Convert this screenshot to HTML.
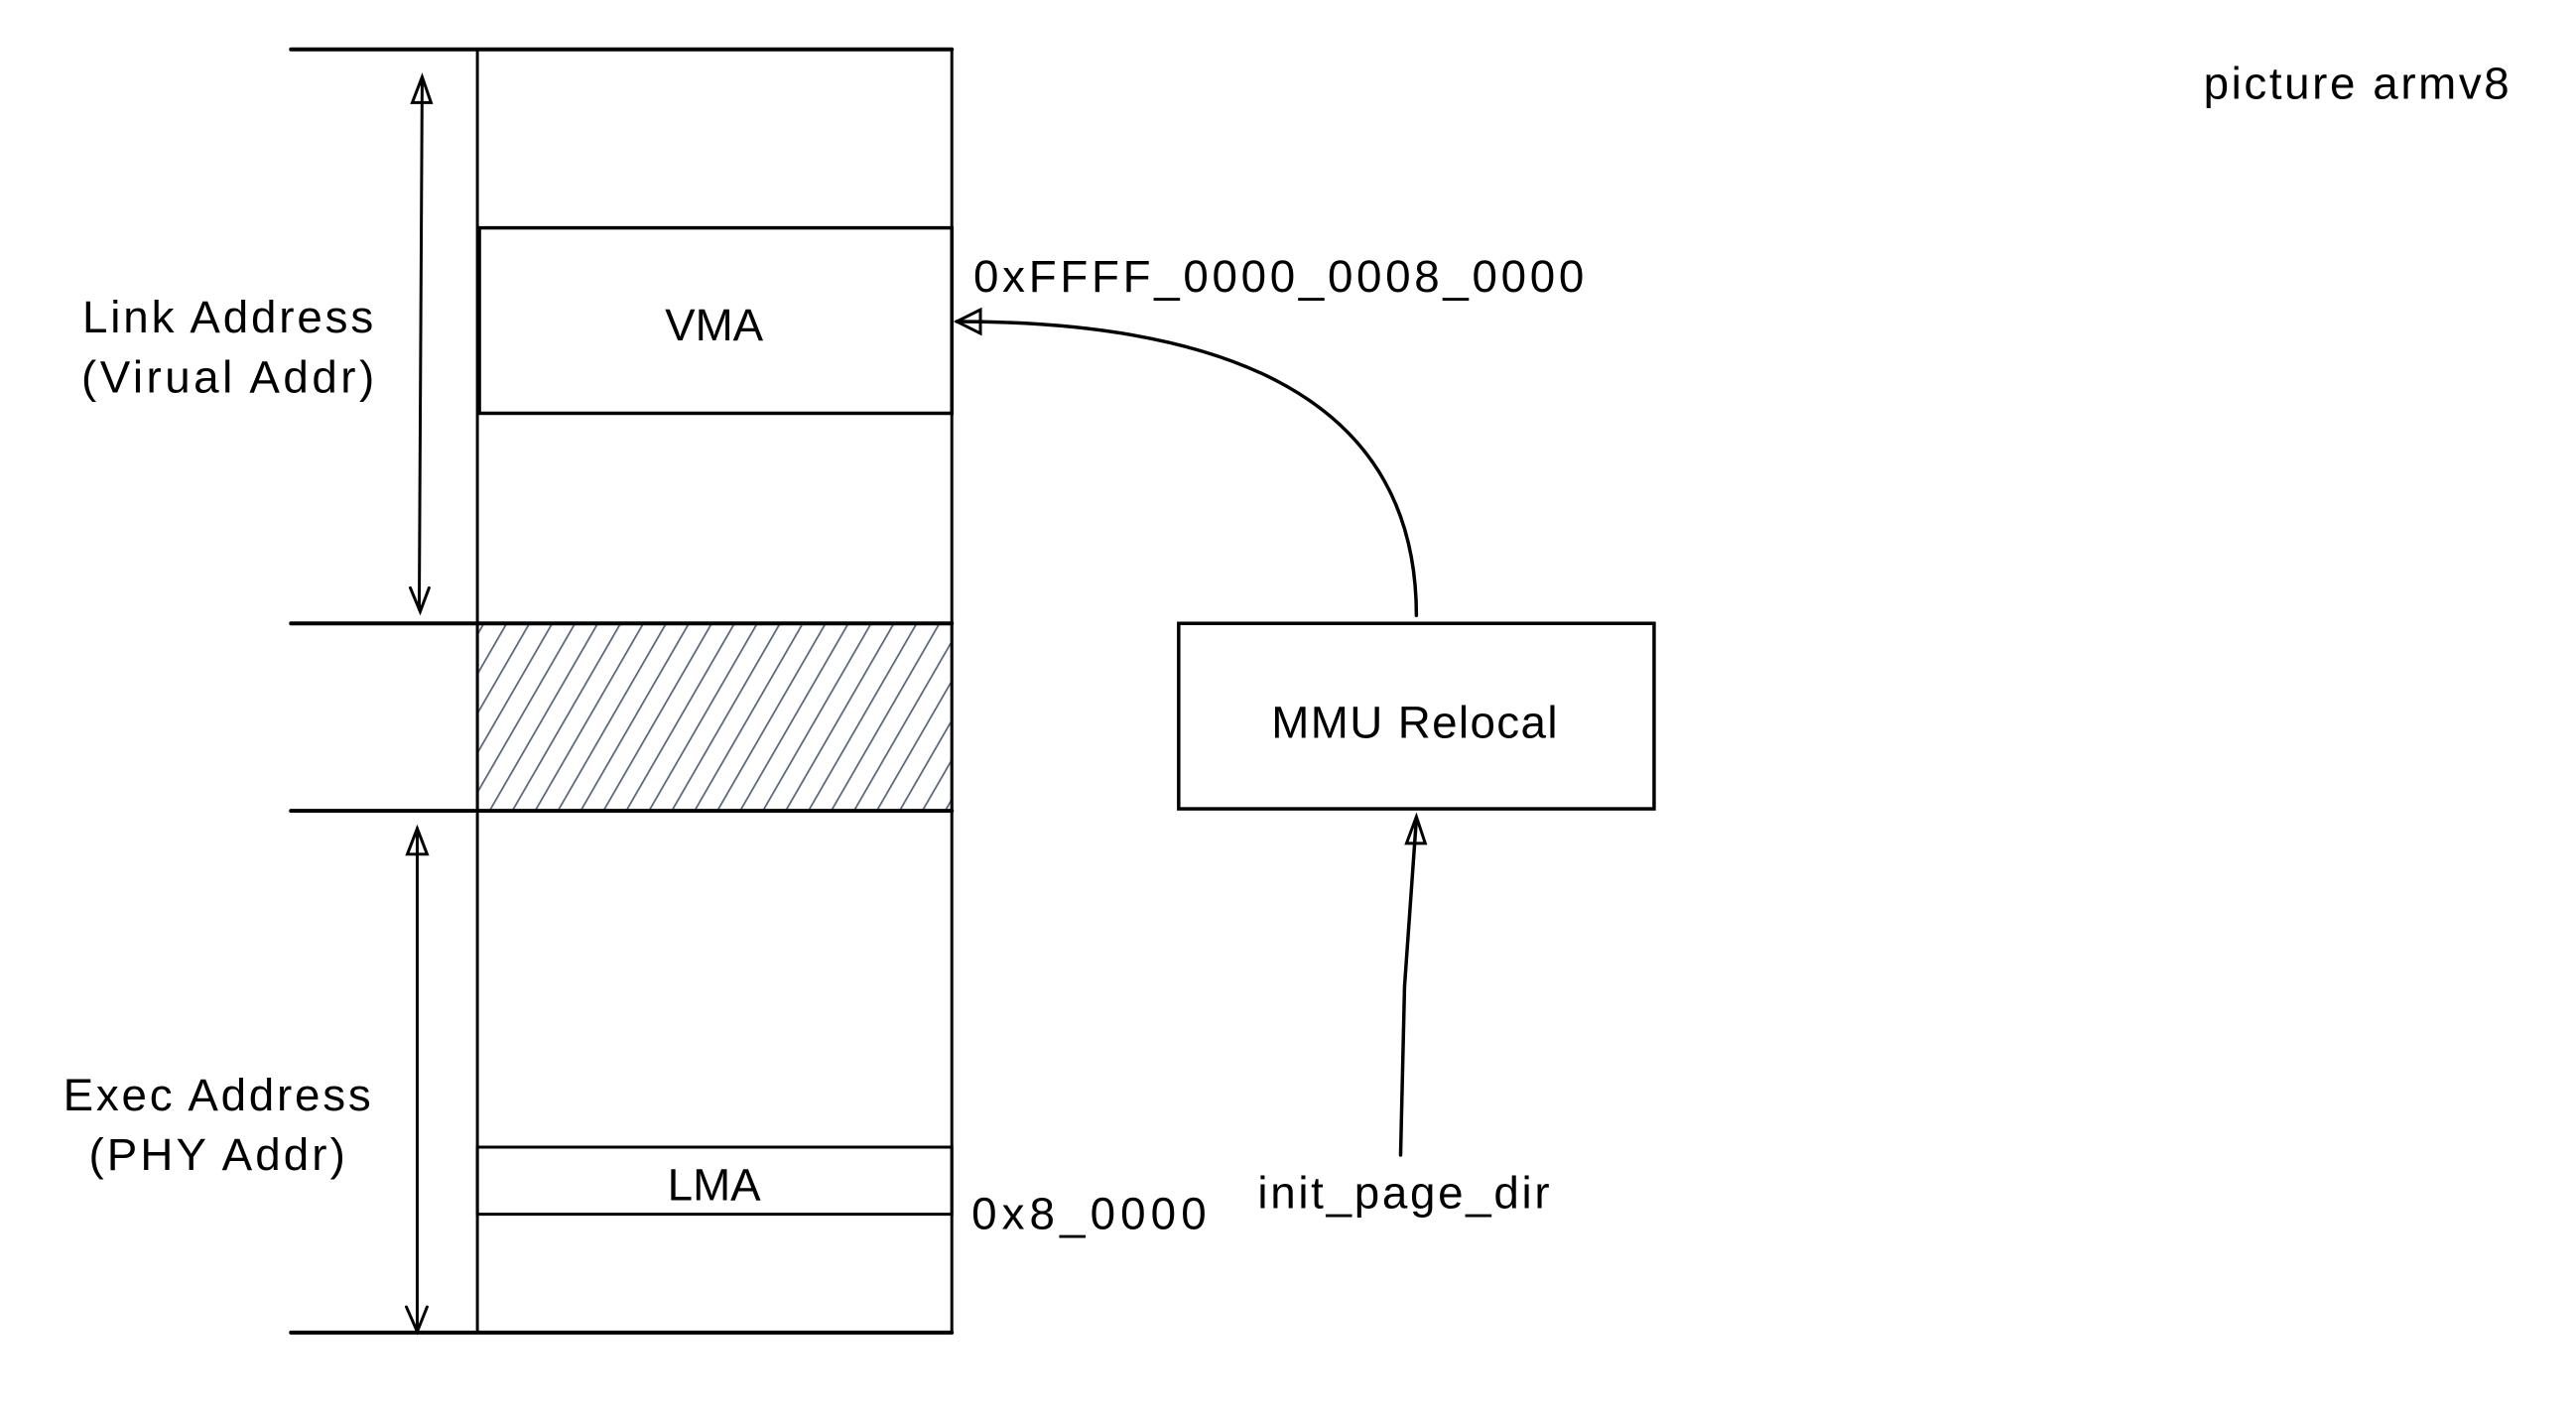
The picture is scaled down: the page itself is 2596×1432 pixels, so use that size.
<!DOCTYPE html>
<html><head><meta charset="utf-8"><style>html,body{margin:0;padding:0;background:#fff}svg{display:block}</style></head>
<body>
<svg width="2596" height="1432" viewBox="0 0 2596 1432" xmlns="http://www.w3.org/2000/svg">
<defs>
<pattern id="h" patternUnits="userSpaceOnUse" width="20" height="20" patternTransform="rotate(30)">
<line x1="0" y1="0" x2="0" y2="20" stroke="#56657a" stroke-width="3.5"/>
</pattern>
</defs>
<rect width="2596" height="1432" fill="#fff"/>
<g transform="scale(0.994)">
<g stroke="#000" fill="none" stroke-linecap="round">
<rect x="484" y="632" width="481" height="190" fill="url(#h)" stroke="none"/>
<rect x="484" y="632" width="481" height="190" stroke="#56657a" stroke-width="3"/>
<line x1="484" y1="50" x2="484" y2="1351" stroke-width="3"/>
<line x1="965" y1="50" x2="965" y2="1351" stroke-width="3"/>
<line x1="295" y1="50" x2="965" y2="50" stroke-width="4"/>
<line x1="295" y1="632" x2="965" y2="632" stroke-width="4"/>
<line x1="295" y1="822" x2="965" y2="822" stroke-width="4"/>
<line x1="295" y1="1351" x2="965" y2="1351" stroke-width="4"/>
<rect x="486" y="231" width="479" height="188" stroke-width="3.5"/>
<rect x="484" y="1163" width="481" height="68" stroke-width="3"/>
<rect x="1195" y="632" width="482" height="188" stroke-width="3.5"/>
<line x1="428" y1="80" x2="425" y2="618" stroke-width="3"/>
<path d="M418 104 L428 78 L437 104 Z" stroke-width="3"/>
<path d="M416 596 L426 620 L435 596" stroke-width="3"/>
<line x1="423" y1="840" x2="423" y2="1348" stroke-width="3"/>
<path d="M413 866 L423 840 L433 866 Z" stroke-width="3"/>
<path d="M412 1325 L423 1350 L433 1325" stroke-width="3"/>
<path d="M1436 624 C1436 460 1330 326 970 326" stroke-width="3.5"/>
<path d="M994 314 L970 326 L994 338 Z" stroke-width="3"/>
<path d="M1420 1171 L1424 1000 L1436 830" stroke-width="3.5"/>
<path d="M1426 855 L1436 828 L1445 855 Z" stroke-width="3"/>
</g>
<g font-family="Liberation Sans, sans-serif" font-size="46" fill="#000">
<text x="231" y="337" text-anchor="middle" textLength="295">Link Address</text>
<text x="231" y="398" text-anchor="middle" textLength="297">(Virual Addr)</text>
<text x="220" y="1126" text-anchor="middle" textLength="312">Exec Address</text>
<text x="220" y="1186" text-anchor="middle" textLength="260">(PHY Addr)</text>
<text x="724" y="345" text-anchor="middle">VMA</text>
<text x="724" y="1217" text-anchor="middle">LMA</text>
<text x="987" y="296" textLength="619">0xFFFF_0000_0008_0000</text>
<text x="985" y="1246" textLength="238">0x8_0000</text>
<text x="1434" y="748" text-anchor="middle" textLength="290">MMU Relocal</text>
<text x="1275" y="1225" textLength="296">init_page_dir</text>
<text x="2544" y="100" text-anchor="end" textLength="310">picture armv8</text>
</g>
</g>
</svg>
</body></html>
